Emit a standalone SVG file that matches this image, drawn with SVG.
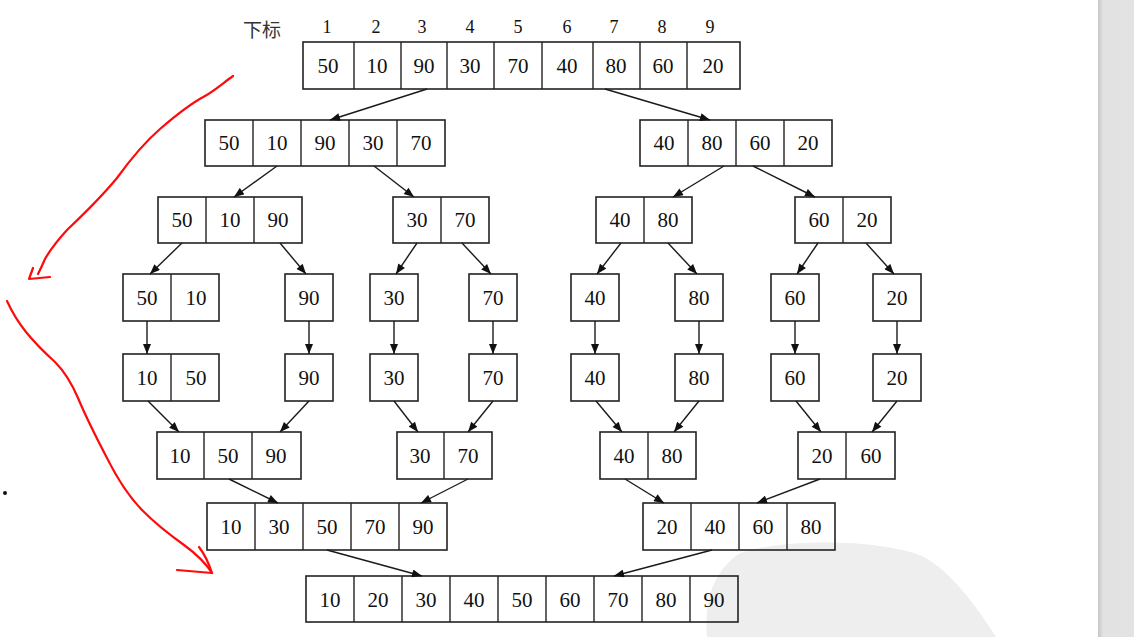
<svg xmlns="http://www.w3.org/2000/svg" width="1134" height="637" viewBox="0 0 1134 637">
<defs>
<style>
.bx{fill:none;stroke:#222;stroke-width:1.6}
.dv{stroke:#222;stroke-width:1.4}
.t{font-family:"Liberation Serif","Times New Roman",serif;font-size:21px;fill:#111;text-anchor:middle}
.ix{font-family:"Liberation Serif","Times New Roman",serif;font-size:18px;fill:#111;text-anchor:middle}
.cj{font-family:"Noto Sans CJK SC","Noto Sans",sans-serif;font-size:19px;fill:#333}
.ar{stroke:#1a1a1a;stroke-width:1.4;fill:none;marker-end:url(#ah)}
.red{stroke:#ff0a0a;stroke-width:2.2;fill:none;stroke-linecap:round;stroke-linejoin:round}
</style>
<marker id="ah" viewBox="0 0 10 8" refX="10" refY="4" markerWidth="11" markerHeight="8" markerUnits="userSpaceOnUse" orient="auto">
<path d="M0,0 L10,4 L0,8 Z" fill="#111"/>
</marker>
<linearGradient id="bar" x1="0" y1="0" x2="1" y2="0">
<stop offset="0" stop-color="#c6c6c6"/>
<stop offset="0.15" stop-color="#e2e2e2"/>
<stop offset="1" stop-color="#e3e3e3"/>
</linearGradient>
</defs>
<rect x="0" y="0" width="1134" height="637" fill="#ffffff"/>
<rect x="1098" y="0" width="36" height="637" fill="url(#bar)"/>
<path d="M707,637 C704,602 712,572 740,553 C785,538 880,539 922,556 C952,572 976,606 996,637 Z" fill="#eeeeee"/>

<g id="index-labels">
<text class="cj" x="243" y="37">下标</text>
<text class="ix" x="327" y="33">1</text>
<text class="ix" x="376" y="33">2</text>
<text class="ix" x="422" y="33">3</text>
<text class="ix" x="470" y="33">4</text>
<text class="ix" x="518" y="33">5</text>
<text class="ix" x="567" y="33">6</text>
<text class="ix" x="614" y="33">7</text>
<text class="ix" x="662" y="33">8</text>
<text class="ix" x="710" y="33">9</text>
</g>

<g id="n0">
<rect class="bx" x="303" y="42" width="437" height="47"/>
<path class="dv" d="M354,42V89M401,42V89M447,42V89M494,42V89M542,42V89M593,42V89M640,42V89M687,42V89"/>
<text class="t" x="328" y="73">50</text><text class="t" x="377" y="73">10</text><text class="t" x="424" y="73">90</text><text class="t" x="470" y="73">30</text><text class="t" x="518" y="73">70</text><text class="t" x="567" y="73">40</text><text class="t" x="616" y="73">80</text><text class="t" x="663" y="73">60</text><text class="t" x="713" y="73">20</text>
</g>

<g id="n1a">
<rect class="bx" x="205" y="120" width="240" height="46"/>
<path class="dv" d="M253,120V166M301,120V166M349,120V166M397,120V166"/>
<text class="t" x="229" y="150">50</text><text class="t" x="277" y="150">10</text><text class="t" x="325" y="150">90</text><text class="t" x="373" y="150">30</text><text class="t" x="421" y="150">70</text>
</g>
<g id="n1b">
<rect class="bx" x="640" y="120" width="192" height="46"/>
<path class="dv" d="M688,120V166M736,120V166M784,120V166"/>
<text class="t" x="664" y="150">40</text><text class="t" x="712" y="150">80</text><text class="t" x="760" y="150">60</text><text class="t" x="808" y="150">20</text>
</g>

<g id="n2a">
<rect class="bx" x="158" y="197" width="144" height="46"/>
<path class="dv" d="M206,197V243M254,197V243"/>
<text class="t" x="182" y="227">50</text><text class="t" x="230" y="227">10</text><text class="t" x="278" y="227">90</text>
</g>
<g id="n2b">
<rect class="bx" x="393" y="197" width="96" height="46"/>
<path class="dv" d="M441,197V243"/>
<text class="t" x="417" y="227">30</text><text class="t" x="465" y="227">70</text>
</g>
<g id="n2c">
<rect class="bx" x="596" y="197" width="96" height="46"/>
<path class="dv" d="M644,197V243"/>
<text class="t" x="620" y="227">40</text><text class="t" x="668" y="227">80</text>
</g>
<g id="n2d">
<rect class="bx" x="795" y="197" width="96" height="46"/>
<path class="dv" d="M843,197V243"/>
<text class="t" x="819" y="227">60</text><text class="t" x="867" y="227">20</text>
</g>

<g id="n3a">
<rect class="bx" x="123" y="274" width="96" height="47"/>
<path class="dv" d="M171,274V321"/>
<text class="t" x="147" y="305">50</text><text class="t" x="196" y="305">10</text>
</g>
<g id="n3b"><rect class="bx" x="285" y="274" width="48" height="47"/><text class="t" x="309" y="305">90</text></g>
<g id="n3c"><rect class="bx" x="370" y="274" width="48" height="47"/><text class="t" x="394" y="305">30</text></g>
<g id="n3d"><rect class="bx" x="469" y="274" width="48" height="47"/><text class="t" x="493" y="305">70</text></g>
<g id="n3e"><rect class="bx" x="571" y="274" width="48" height="47"/><text class="t" x="595" y="305">40</text></g>
<g id="n3f"><rect class="bx" x="675" y="274" width="48" height="47"/><text class="t" x="699" y="305">80</text></g>
<g id="n3g"><rect class="bx" x="771" y="274" width="48" height="47"/><text class="t" x="795" y="305">60</text></g>
<g id="n3h"><rect class="bx" x="873" y="274" width="48" height="47"/><text class="t" x="897" y="305">20</text></g>

<g id="n4a">
<rect class="bx" x="123" y="354" width="96" height="47"/>
<path class="dv" d="M171,354V401"/>
<text class="t" x="147" y="385">10</text><text class="t" x="196" y="385">50</text>
</g>
<g id="n4b"><rect class="bx" x="285" y="354" width="48" height="47"/><text class="t" x="309" y="385">90</text></g>
<g id="n4c"><rect class="bx" x="370" y="354" width="48" height="47"/><text class="t" x="394" y="385">30</text></g>
<g id="n4d"><rect class="bx" x="469" y="354" width="48" height="47"/><text class="t" x="493" y="385">70</text></g>
<g id="n4e"><rect class="bx" x="571" y="354" width="48" height="47"/><text class="t" x="595" y="385">40</text></g>
<g id="n4f"><rect class="bx" x="675" y="354" width="48" height="47"/><text class="t" x="699" y="385">80</text></g>
<g id="n4g"><rect class="bx" x="771" y="354" width="48" height="47"/><text class="t" x="795" y="385">60</text></g>
<g id="n4h"><rect class="bx" x="873" y="354" width="48" height="47"/><text class="t" x="897" y="385">20</text></g>

<g id="n5a">
<rect class="bx" x="157" y="432" width="144" height="47"/>
<path class="dv" d="M204,432V479M252,432V479"/>
<text class="t" x="180" y="463">10</text><text class="t" x="228" y="463">50</text><text class="t" x="276" y="463">90</text>
</g>
<g id="n5b">
<rect class="bx" x="397" y="432" width="95" height="47"/>
<path class="dv" d="M444,432V479"/>
<text class="t" x="420" y="463">30</text><text class="t" x="468" y="463">70</text>
</g>
<g id="n5c">
<rect class="bx" x="600" y="432" width="96" height="47"/>
<path class="dv" d="M648,432V479"/>
<text class="t" x="624" y="463">40</text><text class="t" x="672" y="463">80</text>
</g>
<g id="n5d">
<rect class="bx" x="798" y="432" width="97" height="47"/>
<path class="dv" d="M846,432V479"/>
<text class="t" x="822" y="463">20</text><text class="t" x="871" y="463">60</text>
</g>

<g id="n6a">
<rect class="bx" x="207" y="503" width="240" height="47"/>
<path class="dv" d="M255,503V550M303,503V550M351,503V550M399,503V550"/>
<text class="t" x="231" y="534">10</text><text class="t" x="279" y="534">30</text><text class="t" x="327" y="534">50</text><text class="t" x="375" y="534">70</text><text class="t" x="423" y="534">90</text>
</g>
<g id="n6b">
<rect class="bx" x="643" y="503" width="192" height="47"/>
<path class="dv" d="M691,503V550M739,503V550M787,503V550"/>
<text class="t" x="667" y="534">20</text><text class="t" x="715" y="534">40</text><text class="t" x="763" y="534">60</text><text class="t" x="811" y="534">80</text>
</g>

<g id="n7">
<rect class="bx" x="306" y="576" width="432" height="46"/>
<path class="dv" d="M354,576V622M402,576V622M450,576V622M498,576V622M546,576V622M594,576V622M642,576V622M690,576V622"/>
<text class="t" x="330" y="607">10</text><text class="t" x="378" y="607">20</text><text class="t" x="426" y="607">30</text><text class="t" x="474" y="607">40</text><text class="t" x="522" y="607">50</text><text class="t" x="570" y="607">60</text><text class="t" x="618" y="607">70</text><text class="t" x="666" y="607">80</text><text class="t" x="714" y="607">90</text>
</g>

<g id="connectors">
<line class="ar" x1="427" y1="89" x2="330" y2="120"/>
<line class="ar" x1="605" y1="89" x2="710" y2="120"/>
<line class="ar" x1="277" y1="166" x2="234" y2="197"/>
<line class="ar" x1="374" y1="166" x2="414" y2="197"/>
<line class="ar" x1="724" y1="166" x2="673" y2="197"/>
<line class="ar" x1="753" y1="166" x2="815" y2="197"/>
<line class="ar" x1="182" y1="243" x2="150" y2="274"/>
<line class="ar" x1="280" y1="243" x2="306" y2="274"/>
<line class="ar" x1="417" y1="243" x2="396" y2="274"/>
<line class="ar" x1="462" y1="243" x2="491" y2="274"/>
<line class="ar" x1="621" y1="243" x2="597" y2="274"/>
<line class="ar" x1="668" y1="243" x2="697" y2="274"/>
<line class="ar" x1="818" y1="243" x2="797" y2="274"/>
<line class="ar" x1="866" y1="243" x2="894" y2="274"/>
<line class="ar" x1="147" y1="321" x2="147" y2="354"/>
<line class="ar" x1="309" y1="321" x2="309" y2="354"/>
<line class="ar" x1="394" y1="321" x2="394" y2="354"/>
<line class="ar" x1="493" y1="321" x2="493" y2="354"/>
<line class="ar" x1="595" y1="321" x2="595" y2="354"/>
<line class="ar" x1="699" y1="321" x2="699" y2="354"/>
<line class="ar" x1="795" y1="321" x2="795" y2="354"/>
<line class="ar" x1="897" y1="321" x2="897" y2="354"/>
<line class="ar" x1="148" y1="401" x2="179" y2="432"/>
<line class="ar" x1="309" y1="401" x2="280" y2="432"/>
<line class="ar" x1="394" y1="401" x2="418" y2="432"/>
<line class="ar" x1="493" y1="401" x2="468" y2="432"/>
<line class="ar" x1="596" y1="401" x2="622" y2="432"/>
<line class="ar" x1="699" y1="401" x2="674" y2="432"/>
<line class="ar" x1="796" y1="401" x2="821" y2="432"/>
<line class="ar" x1="897" y1="401" x2="872" y2="432"/>
<line class="ar" x1="229" y1="479" x2="278" y2="503"/>
<line class="ar" x1="468" y1="479" x2="421" y2="503"/>
<line class="ar" x1="625" y1="479" x2="664" y2="503"/>
<line class="ar" x1="820" y1="479" x2="757" y2="503"/>
<line class="ar" x1="327" y1="550" x2="422" y2="576"/>
<line class="ar" x1="712" y1="550" x2="614" y2="576"/>
</g>

<g id="annotations">
<path class="red" d="M233,76 C222,84 214,91 205,96 C190,104 175,116 160,129 C145,142 130,160 117,178 C103,195 86,212 67,230 C57,241 50,250 45,259 C42,266 40,270 38,274"/>
<path class="red" d="M33,268 L29,279 L50,277"/>
<path class="red" d="M7,301 C12,312 18,322 26,332 C35,343 45,353 55,362 C65,372 72,384 78,398 C86,417 96,437 107,458 C117,478 128,496 143,511 C155,523 170,535 184,545 C195,553 205,562 212,573"/>
<path class="red" d="M199,547 C206,556 209,564 212,573 L177,570"/>
<circle cx="5" cy="493" r="2" fill="#111"/>
</g>
</svg>
